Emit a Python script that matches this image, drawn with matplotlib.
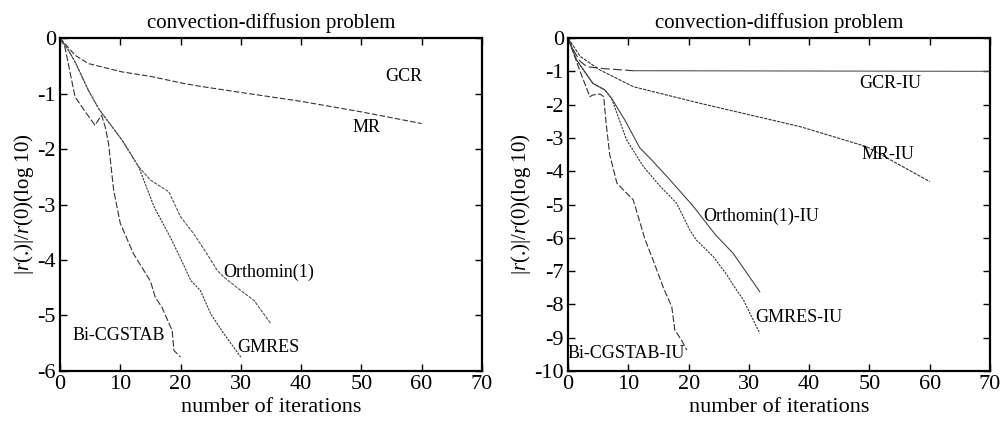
import matplotlib
matplotlib.use('Agg')
import matplotlib.pyplot as plt

plt.rcParams['font.family'] = ['Liberation Serif', 'DejaVu Serif']
plt.rcParams['mathtext.fontset'] = 'custom'
plt.rcParams['mathtext.rm'] = 'Liberation Serif'
plt.rcParams['mathtext.it'] = 'Liberation Serif:italic'
plt.rcParams['axes.unicode_minus'] = False

# ---- left panel data ----
mr_x = [0, 2.5, 4.7, 10.3, 15, 20.6, 23.3, 30, 40, 50, 60]
mr_y = [0, -0.31, -0.46, -0.61, -0.69, -0.82, -0.87, -0.98, -1.14, -1.33, -1.54]

bicg_x = [0, 0.8, 2.5, 4.2, 5.8, 6.9, 7.5, 8.05, 8.9, 10, 12.2, 15, 15.8, 16.9, 18.6, 18.9, 20]
bicg_y = [0, -0.16, -1.06, -1.33, -1.57, -1.39, -1.6, -1.9, -2.74, -3.34, -3.89, -4.38, -4.67,
          -4.85, -5.27, -5.63, -5.75]

gmres_x = [0, 1.4, 2.5, 4.7, 6.4, 7.2, 10.3, 13.05, 15.6, 18.3, 20, 21.7, 23.3, 25, 27.2, 30]
gmres_y = [0, -0.22, -0.43, -0.94, -1.27, -1.39, -1.84, -2.32, -3.04, -3.59, -3.97, -4.37,
           -4.55, -4.97, -5.33, -5.75]

orth_x = [0, 1.4, 2.5, 4.7, 6.4, 7.2, 10.3, 13.05, 15, 18.05, 20, 22.2, 24.4, 26.1, 27.2, 30,
          32.2, 35]
orth_y = [0, -0.22, -0.43, -0.94, -1.27, -1.39, -1.84, -2.32, -2.56, -2.77, -3.22, -3.53, -3.89,
          -4.19, -4.31, -4.55, -4.73, -5.15]

# ---- right panel data ----
gcr_iu_x = [0, 1, 2, 3.1, 6, 10.8, 70]
gcr_iu_y = [0, -0.4, -0.7, -0.86, -0.92, -0.98, -1.0]

mr_iu_x = [0, 2, 5.3, 10.8, 21.9, 38.5, 49.5, 60]
mr_iu_y = [0, -0.55, -0.96, -1.46, -1.96, -2.66, -3.26, -4.31]

bicg_iu_x = [0, 0.3, 1.9, 3.6, 4.1, 5.3, 5.9, 6.3, 6.9, 8.1, 10.8, 12.8, 14.1, 15.8, 17.2, 17.7,
             18.8, 19.7]
bicg_iu_y = [0, -0.16, -0.96, -1.76, -1.71, -1.68, -1.76, -2.56, -3.5, -4.36, -4.86, -6.07,
             -6.67, -7.5, -8.07, -8.77, -9.07, -9.37]

gmres_iu_x = [0, 1.4, 4.1, 6.1, 7.2, 9.7, 12.5, 15, 18, 20.2, 21.3, 24.1, 26.3, 27.4, 29.1, 31.8]
gmres_iu_y = [0, -0.66, -1.36, -1.56, -1.81, -3.06, -3.86, -4.4, -4.96, -5.77, -6.07, -6.57,
              -7.1, -7.42, -7.87, -8.87]

orth_iu_x = [0, 1.4, 4.1, 6.1, 7.2, 9.4, 11.9, 13.8, 16.9, 20.8, 24.4, 27.4, 31.8]
orth_iu_y = [0, -0.66, -1.36, -1.56, -1.81, -2.46, -3.3, -3.65, -4.26, -5.06, -5.9, -6.47, -7.62]

xticks = [0, 10, 20, 30, 40, 50, 60, 70]
lc = '#333333'

fig = plt.figure(figsize=(10.02, 4.23), dpi=100)
ax1 = fig.add_axes([0.0599, 0.123, 0.421, 0.787])
ax2 = fig.add_axes([0.567, 0.123, 0.421, 0.787])

ax1.plot(mr_x, mr_y, color=lc, lw=0.8, dashes=(5, 2))
ax1.plot(bicg_x, bicg_y, color=lc, lw=0.8, dashes=(6, 2))
ax1.plot(gmres_x, gmres_y, color=lc, lw=0.8, dashes=(2, 1))
ax1.plot(orth_x, orth_y, color='#555555', lw=0.8, dashes=(3, 1))

ax1.text(57, -0.7, 'GCR', ha='center', va='center', fontsize=13)
ax1.text(50.8, -1.62, 'MR', ha='center', va='center', fontsize=13)
ax1.text(34.7, -4.22, 'Orthomin(1)', ha='center', va='center', fontsize=13)
ax1.text(9.7, -5.36, 'Bi-CGSTAB', ha='center', va='center', fontsize=13)
ax1.text(34.5, -5.58, 'GMRES', ha='center', va='center', fontsize=13)
ax1.set_ylim(-6, 0)
ax1.set_yticks([0, -1, -2, -3, -4, -5, -6])

ax2.plot(gcr_iu_x[:6], gcr_iu_y[:6], color=lc, lw=0.8, dashes=(8, 3))
ax2.plot(gcr_iu_x[5:], gcr_iu_y[5:], color='#555555', lw=0.8)
ax2.plot(mr_iu_x, mr_iu_y, color=lc, lw=0.8, dashes=(3, 1))
ax2.plot(bicg_iu_x, bicg_iu_y, color=lc, lw=0.8, dashes=(6, 2))
ax2.plot(gmres_iu_x, gmres_iu_y, color=lc, lw=0.8, dashes=(2, 1))
ax2.plot(orth_iu_x, orth_iu_y, color='#444444', lw=0.8)

ax2.text(53.4, -1.36, 'GCR-IU', ha='center', va='center', fontsize=13)
ax2.text(53, -3.5, 'MR-IU', ha='center', va='center', fontsize=13)
ax2.text(32.1, -5.36, 'Orthomin(1)-IU', ha='center', va='center', fontsize=13)
ax2.text(38.2, -8.4, 'GMRES-IU', ha='center', va='center', fontsize=13)
ax2.text(9.7, -9.47, 'Bi-CGSTAB-IU', ha='center', va='center', fontsize=13)
ax2.set_ylim(-10, 0)
ax2.set_yticks(list(range(0, -11, -1)))

for ax in (ax1, ax2):
    ax.set_xlim(0, 70)
    ax.set_xticks(xticks)
    ax.tick_params(direction='in', top=True, right=True, labelsize=16, length=5, width=1, pad=3)
    for s in ax.spines.values():
        s.set_linewidth(1.6)
    ax.set_title('convection-diffusion problem', fontsize=15, pad=7)
    ax.set_xlabel('number of iterations', fontsize=16, labelpad=3)
    ax.set_ylabel(r'|$r$(.)|/$r$(0)(log 10)', fontsize=15, labelpad=1)

fig.savefig('out.png', dpi=100)
